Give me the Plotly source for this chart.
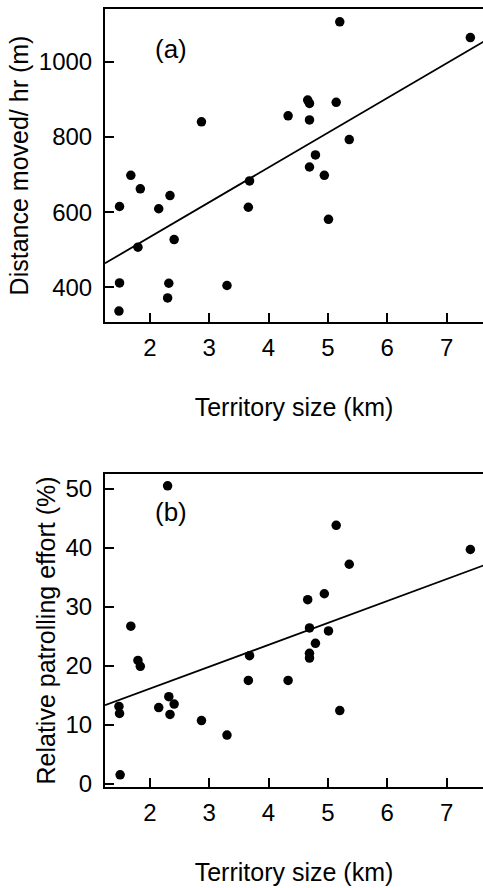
import plotly.graph_objects as go

# Panel (a): territory size (km) vs distance moved per hour (m)
terr_a = [5.20, 7.40, 4.66, 4.69, 5.14, 4.33, 4.69, 2.87, 5.36, 4.79, 4.69, 4.94, 3.68, 1.68,
          1.84, 2.34, 1.49, 2.15, 3.66, 5.01, 2.41, 1.80, 1.49, 2.32, 3.30, 2.30, 1.48]
dist_a = [1106, 1064, 898, 889, 892, 856, 845, 840, 793, 752, 720, 698, 683, 698,
          662, 644, 615, 609, 613, 581, 527, 507, 412, 411, 405, 372, 337]
fit_a_x = [1.245, 7.62]
fit_a_y = [464, 1053]

# Panel (b): territory size (km) vs relative patrolling effort (%)
terr_b = [2.30, 5.14, 7.40, 5.36, 4.94, 4.66, 1.68, 4.69, 5.01, 4.79, 3.68, 4.69, 4.69, 1.80,
          1.84, 3.66, 4.33, 2.32, 2.41, 1.48, 1.49, 2.15, 2.34, 2.87, 5.20, 3.30, 1.50]
effort_b = [50.5, 43.8, 39.7, 37.2, 32.2, 31.2, 26.7, 26.4, 25.9, 23.8, 21.7, 22.1, 21.3, 20.9,
            19.9, 17.5, 17.5, 14.75, 13.5, 13.1, 11.9, 12.9, 11.75, 10.7, 12.4, 8.25, 1.5]
fit_b_x = [1.245, 7.62]
fit_b_y = [13.3, 37.0]

x_ticks = [2, 3, 4, 5, 6, 7]
y_ticks_a = [400, 600, 800, 1000]
y_ticks_b = [0, 10, 20, 30, 40, 50]

FONT = "Liberation Sans"
BLACK = "#000000"

fig = go.Figure()
fig.add_trace(go.Scatter(x=terr_a, y=dist_a, mode="markers", xaxis="x", yaxis="y",
                         marker=dict(color=BLACK, size=9.5), showlegend=False))
fig.add_trace(go.Scatter(x=fit_a_x, y=fit_a_y, mode="lines", xaxis="x", yaxis="y",
                         line=dict(color=BLACK, width=1.8), showlegend=False))
fig.add_trace(go.Scatter(x=terr_b, y=effort_b, mode="markers", xaxis="x2", yaxis="y2",
                         marker=dict(color=BLACK, size=9.5), showlegend=False))
fig.add_trace(go.Scatter(x=fit_b_x, y=fit_b_y, mode="lines", xaxis="x2", yaxis="y2",
                         line=dict(color=BLACK, width=1.8), showlegend=False))

TICKFONT = dict(family=FONT, size=24, color=BLACK)
TITLEFONT = dict(family=FONT, size=25, color=BLACK)

xcommon = dict(range=[1.245, 7.613], tickvals=x_ticks, ticks="inside", ticklen=9, tickwidth=1.5,
               tickcolor=BLACK, showline=True, linecolor=BLACK, linewidth=2, mirror=True,
               showgrid=False, zeroline=False, domain=[105 / 483, 1.0],
               tickfont=TICKFONT, ticklabelstandoff=3, automargin=False,
               title=dict(text="Territory size (km)", font=TITLEFONT, standoff=39))
ycommon = dict(ticks="inside", ticklen=9, tickwidth=1.5, tickcolor=BLACK, showline=True,
               linecolor=BLACK, linewidth=2, mirror=False, showgrid=False, zeroline=False,
               tickfont=TICKFONT, ticklabelstandoff=6, automargin=False)

H = 888
fig.update_layout(
    width=483, height=888, margin=dict(l=0, r=0, t=0, b=0, autoexpand=False),
    paper_bgcolor="white", plot_bgcolor="white",
    font=dict(family=FONT, color=BLACK),
    xaxis=dict(xcommon, anchor="y"),
    yaxis=dict(ycommon, range=[308, 1140], tickvals=y_ticks_a, anchor="x",
               domain=[1 - 322 / H, 1 - 9 / H],
               title=dict(text="Distance moved/ hr (m)", font=TITLEFONT, standoff=3)),
    xaxis2=dict(xcommon, anchor="y2"),
    yaxis2=dict(ycommon, range=[-0.56, 52.5], tickvals=y_ticks_b, anchor="x2",
                domain=[1 - 787 / H, 1 - 474 / H],
                title=dict(text="Relative patrolling effort (%)", font=TITLEFONT, standoff=3)),
    annotations=[
        dict(text="(a)", x=171 / 483, y=1 - 49 / H, xref="paper", yref="paper", showarrow=False,
             font=dict(family=FONT, size=26, color=BLACK), xanchor="center", yanchor="middle"),
        dict(text="(b)", x=171 / 483, y=1 - 512 / H, xref="paper", yref="paper", showarrow=False,
             font=dict(family=FONT, size=26, color=BLACK), xanchor="center", yanchor="middle"),
    ],
)

fig.write_html("out.html")
